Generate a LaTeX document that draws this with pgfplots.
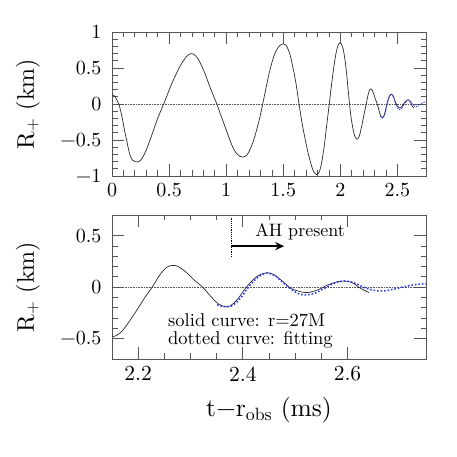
\documentclass[border=0pt]{standalone}
\usepackage{fix-cm}
\usepackage{fontspec}
\setmainfont{lmroman10-regular}[Extension=.otf]
\usepackage{pgfplots}
\pgfplotsset{compat=1.18}
\usetikzlibrary{arrows.meta}
\definecolor{frame}{HTML}{555555}
\definecolor{curve}{HTML}{2A2A2A}
\definecolor{fitblue}{HTML}{1F2FFF}
\pgfplotsset{
  rplus/.style={
    scale only axis, width=314pt, height=144pt,
    anchor=south west,
    tick align=inside, xtick pos=both, ytick pos=both,
    axis line style={frame, line width=0.7pt},
    major tick style={frame, line width=0.7pt},
    minor tick style={frame, line width=0.7pt},
    major tick length=12pt, minor tick length=5.5pt,
    tick label style={font=\fontsize{20}{20}\selectfont},
    xticklabel style={yshift=-4pt},
    yticklabel style={xshift=-7pt},
    label style={font=\fontsize{24}{24}\selectfont},
    ylabel={R$_{+}$ (km)},
    ylabel style={at={(axis description cs:-0.268,0.5)}, anchor=center},
    minor y tick num=4,
  },
}
\begin{document}
\begin{tikzpicture}
\path[use as bounding box] (0,0) rectangle (457pt,457pt);

% upper panel: whole signal
\begin{axis}[rplus, at={(112pt,281pt)},
  xmin=0, xmax=2.75, ymin=-1, ymax=1,
  xtick={0,0.5,1,1.5,2,2.5}, xticklabels={0,0.5,1,1.5,2,2.5},
  ytick={-1,-0.5,0,0.5,1}, yticklabels={−1,−0.5,0,0.5,1},
  minor x tick num=4,
]
\addplot[frame, densely dotted, line width=0.6pt] coordinates {(0,0) (2.75,0)};
\addplot[curve, line width=0.7pt, smooth] coordinates {
(0,0.13) (0.02,0.115) (0.035,0.083) (0.05,0.03) (0.06,0) (0.075,-0.09)
(0.094,-0.23) (0.11,-0.37) (0.129,-0.51) (0.145,-0.63) (0.16,-0.72)
(0.18,-0.78) (0.2,-0.8) (0.225,-0.805) (0.245,-0.79) (0.265,-0.75)
(0.3,-0.64) (0.34,-0.47) (0.373,-0.32) (0.41,-0.16) (0.453,0) (0.49,0.15)
(0.52,0.27) (0.56,0.41) (0.594,0.52) (0.625,0.6) (0.653,0.66) (0.675,0.69)
(0.695,0.70) (0.715,0.69) (0.735,0.665) (0.76,0.61) (0.785,0.53) (0.82,0.40)
(0.859,0.23) (0.89,0.11) (0.918,0) (0.95,-0.14) (0.991,-0.32) (1.03,-0.49)
(1.065,-0.625) (1.095,-0.695) (1.118,-0.725) (1.15,-0.737) (1.175,-0.72)
(1.2,-0.66) (1.23,-0.55) (1.256,-0.42) (1.29,-0.22) (1.32,0) (1.35,0.23)
(1.374,0.41) (1.405,0.6) (1.432,0.72) (1.46,0.795) (1.485,0.83) (1.505,0.835)
(1.525,0.815) (1.545,0.75) (1.56,0.68) (1.579,0.55) (1.61,0.3) (1.638,0)
(1.665,-0.27) (1.697,-0.53) (1.725,-0.73) (1.756,-0.9) (1.775,-0.96)
(1.791,-0.98) (1.808,-0.965) (1.824,-0.9) (1.84,-0.78) (1.859,-0.58)
(1.88,-0.3) (1.903,0) (1.925,0.3) (1.947,0.56) (1.965,0.73) (1.982,0.82)
(1.997,0.85) (2.01,0.83) (2.025,0.76) (2.04,0.62) (2.055,0.42) (2.068,0.2)
(2.08,0) (2.095,-0.2) (2.11,-0.34) (2.125,-0.44) (2.14,-0.485) (2.151,-0.487)
(2.166,-0.446) (2.181,-0.35) (2.2,-0.205) (2.213,-0.1) (2.227,0)
(2.241,0.115) (2.254,0.19) (2.265,0.21) (2.276,0.2) (2.291,0.147)
(2.307,0.067) (2.323,0) (2.339,-0.093) (2.354,-0.167) (2.367,-0.192)
(2.376,-0.183) (2.389,-0.125) (2.407,0) (2.426,0.1) (2.439,0.131)
(2.449,0.138) (2.461,0.115) (2.477,0.051) (2.493,-0.016) (2.512,-0.048)
(2.524,-0.054) (2.543,-0.029) (2.562,0.019) (2.581,0.051) (2.595,0.058)
(2.609,0.042) (2.625,-0.013) (2.641,-0.054)
};
\addplot[fitblue, densely dotted, line width=0.9pt, smooth] coordinates {
(2.351,-0.173) (2.36,-0.188) (2.368,-0.193) (2.378,-0.185) (2.389,-0.145)
(2.4,-0.08) (2.411,0) (2.426,0.083) (2.437,0.122) (2.446,0.134)
(2.455,0.125) (2.464,0.1) (2.48,0.029) (2.493,-0.025) (2.505,-0.062)
(2.518,-0.078) (2.537,-0.061) (2.556,-0.013) (2.574,0.035) (2.593,0.058)
(2.612,0.042) (2.631,-0.003) (2.65,-0.032) (2.669,-0.038) (2.688,-0.022)
(2.707,0) (2.725,0.019) (2.742,0.029) (2.75,0.03)
};
\end{axis}

% lower panel: ringdown close-up
\begin{axis}[rplus, at={(112pt,98pt)},
  xmin=2.15, xmax=2.75, ymin=-0.7, ymax=0.7,
  xtick={2.2,2.4,2.6}, xticklabels={2.2,2.4,2.6},
  ytick={-0.5,0,0.5}, yticklabels={−0.5,0,0.5},
  minor x tick num=3,
  xticklabel style={font=\fontsize{21.5}{21.5}\selectfont},
  xlabel={t−r$_{\mathrm{obs}}$ (ms)},
  xlabel style={at={(axis description cs:0.5,-0.354)}, anchor=center,
    font=\fontsize{25.5}{25.5}\selectfont},
]
\addplot[frame, densely dotted, line width=0.6pt] coordinates {(2.15,0) (2.75,0)};
\addplot[curve, line width=0.7pt, smooth] coordinates {
(2.151,-0.487) (2.166,-0.446) (2.181,-0.35) (2.2,-0.205) (2.213,-0.1)
(2.227,0) (2.241,0.115) (2.254,0.19) (2.265,0.21) (2.276,0.2) (2.291,0.147)
(2.307,0.067) (2.323,0) (2.339,-0.093) (2.354,-0.167) (2.367,-0.192)
(2.376,-0.183) (2.389,-0.125) (2.407,0) (2.426,0.1) (2.439,0.131)
(2.449,0.138) (2.461,0.115) (2.477,0.051) (2.493,-0.016) (2.512,-0.048)
(2.524,-0.054) (2.543,-0.029) (2.562,0.019) (2.581,0.051) (2.595,0.058)
(2.609,0.042) (2.625,-0.013) (2.641,-0.054)
};
\addplot[fitblue, dotted, line width=1.5pt, smooth] coordinates {
(2.351,-0.173) (2.36,-0.188) (2.368,-0.193) (2.378,-0.185) (2.389,-0.145)
(2.4,-0.08) (2.411,0) (2.426,0.083) (2.437,0.122) (2.446,0.134)
(2.455,0.125) (2.464,0.1) (2.48,0.029) (2.493,-0.025) (2.505,-0.062)
(2.518,-0.078) (2.537,-0.061) (2.556,-0.013) (2.574,0.035) (2.593,0.058)
(2.612,0.042) (2.631,-0.003) (2.65,-0.032) (2.669,-0.038) (2.688,-0.022)
(2.707,0) (2.725,0.019) (2.742,0.029) (2.75,0.03)
};
% apparent horizon marker
\addplot[black, densely dotted, line width=1.2pt] coordinates {(2.378,0.666) (2.378,0.29)};
\addplot[black, line width=1.6pt, -{Stealth[length=9pt,width=8pt]}] coordinates {(2.378,0.397) (2.479,0.397)};
\node[anchor=base west, font=\fontsize{18}{18}\selectfont] at (axis cs:2.417,0.49) {AH present};
\node[anchor=base west, font=\fontsize{18.5}{18.5}\selectfont] at (axis cs:2.2506,-0.385) {solid curve: r=27M};
\node[anchor=base west, font=\fontsize{18.5}{18.5}\selectfont] at (axis cs:2.2506,-0.558) {dotted curve: fitting};
\end{axis}
\end{tikzpicture}
\end{document}
